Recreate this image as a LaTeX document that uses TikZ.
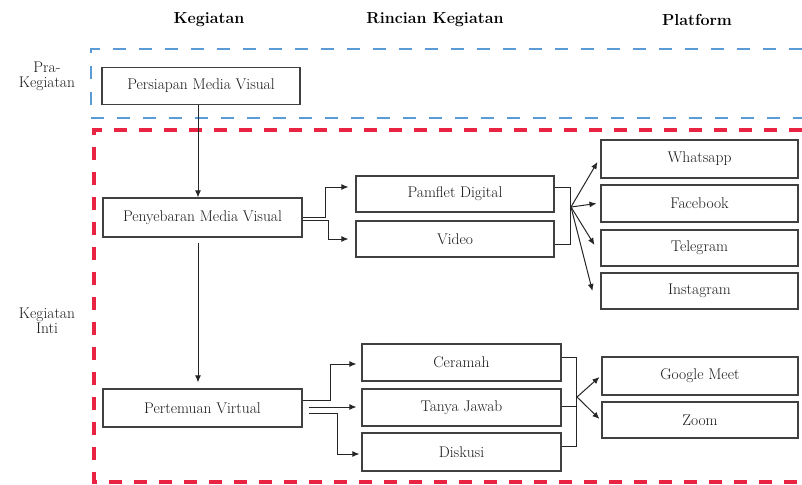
\documentclass[tikz,border=0pt]{standalone}
\usetikzlibrary{arrows.meta,calc}
\definecolor{dblue}{RGB}{91,155,213}
\definecolor{dred}{RGB}{232,36,66}
\begin{document}
\begin{tikzpicture}[x=1pt,y=-1pt,
 box/.style={draw=black!75, line width=1.1pt, minimum width=198pt, minimum height=37pt, inner sep=0pt, font=\fontsize{15.5}{17}\selectfont, text=black!90},
 hdr/.style={font=\fontsize{16}{18}\selectfont\bfseries},
 side/.style={font=\fontsize{15.5}{15}\selectfont, align=center, text=black!90},
 conn/.style={draw=black!85, line width=1pt},
 arr/.style={conn, -{Latex[length=7pt,width=6pt]}}]
\useasboundingbox (0,0) rectangle (802,484);

% group frames
\draw[dblue, line width=2.8pt, dash pattern=on 13pt off 13pt] (802,49) -- (91,49) -- (91,118) -- (802,118);
\draw[dred, line width=3.4pt, dash pattern=on 13pt off 12pt] (802,130) -- (94,130) -- (94,482) -- (802,482);

% headers
\node[hdr] (h1) at (209,20) {Kegiatan};
\node[hdr] (h2) at (435,20) {Rincian Kegiatan};
\node[hdr] (h3) at (697,20) {Platform};

% side labels
\node[side] (pra) at (47,76) {Pra-\\Kegiatan};
\node[side] (inti) at (47,321) {Kegiatan\\Inti};

% column 1
\node[box] (pers) at (201,86) {Persiapan Media Visual};
\node[box, minimum width=199pt, minimum height=39pt] (peny) at (202.5,217.5) {Penyebaran Media Visual};
\node[box, minimum width=199pt, minimum height=38pt] (pert) at (202.5,408) {Pertemuan Virtual};

% column 2
\node[box, minimum height=36pt] (pamf) at (455,194) {Pamflet Digital};
\node[box, minimum height=36pt] (video) at (455,239) {Video};
\node[box, minimum width=199pt] (cer) at (461.5,362.5) {Ceramah};
\node[box, minimum width=199pt] (tanya) at (461.5,407.5) {Tanya Jawab};
\node[box, minimum width=199pt, minimum height=38pt] (disk) at (461.5,452) {Diskusi};

% column 3
\node[box, minimum width=197pt, minimum height=38pt] (wa) at (699.5,159) {Whatsapp};
\node[box, minimum width=197pt] (fb) at (699.5,203.5) {Facebook};
\node[box, minimum width=197pt, minimum height=36pt] (tg) at (699.5,248) {Telegram};
\node[box, minimum width=197pt, minimum height=36pt] (ig) at (699.5,291) {Instagram};
\node[box, minimum width=196pt, minimum height=38pt] (gm) at (700,376) {Google Meet};
\node[box, minimum width=196pt, minimum height=36pt] (zm) at (700,420) {Zoom};

% vertical flow
\draw[arr] ([xshift=-3pt]pers.south) -- ([xshift=-4.5pt]peny.north);
\draw[arr, shorten <=5pt, shorten >=6pt] ([xshift=-4.5pt]peny.south) -- ([xshift=-4.5pt]pert.north);

% Penyebaran -> Pamflet / Video
\draw[arr, shorten >=7pt] ([yshift=0.5pt]peny.east) -- ++(23,0) |- ([yshift=7pt]pamf.west);
\draw[arr, shorten >=7pt] ([yshift=-2.5pt]peny.east) -- ++(26,0) |- (video.west);

% Pamflet / Video bracket and fan
\draw[conn] ([yshift=7pt]pamf.east) -- ++(16,0) |- ([yshift=-5pt]video.east);
\coordinate (f1) at (571,207);
\draw[arr] (f1) -- ([xshift=-3pt,yshift=-3pt]wa.west);
\draw[arr] (f1) -- ([xshift=-4pt]fb.west);
\draw[arr] (f1) -- ([xshift=-6pt,yshift=3pt]tg.west);
\draw[arr] (f1) -- ([xshift=-8pt]ig.west);

% Pertemuan -> Ceramah / Tanya Jawab / Diskusi
\draw[arr, shorten >=5pt] ([yshift=8pt]pert.east) -- ++(28,0) |- ([yshift=-1.5pt]cer.west);
\draw[arr, shorten >=5pt] ([xshift=6pt,yshift=1pt]pert.east) -- ([yshift=0.5pt]tanya.west);
\draw[arr, shorten >=2pt] ([xshift=6pt,yshift=-5pt]pert.east) -- ++(29,0) |- ([yshift=-2pt]disk.west);

% bracket and fan
\draw[conn] ([yshift=5.5pt]cer.east) -- ++(15,0) |- ([yshift=6pt]disk.east);
\draw[conn] ([yshift=1.5pt]tanya.east) -- ++(15,0);
\coordinate (f2) at (577,397);
\draw[arr] (f2) -- ([xshift=-2pt,yshift=-1pt]gm.west);
\draw[arr] (f2) -- ([xshift=-2pt,yshift=1pt]zm.west);
\end{tikzpicture}
\end{document}
